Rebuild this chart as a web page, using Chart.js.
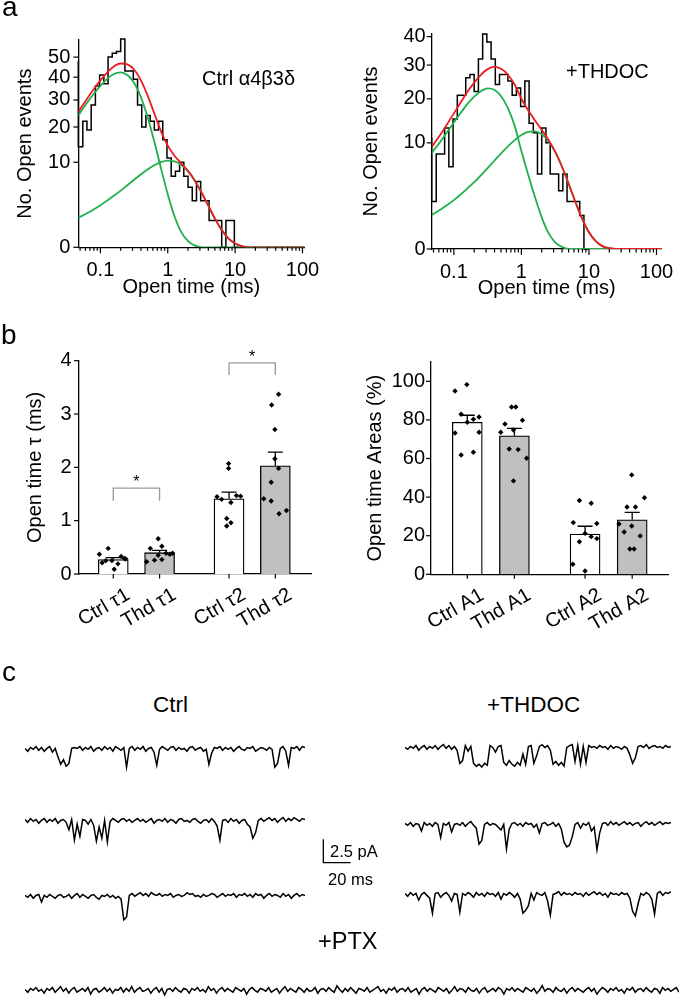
<!DOCTYPE html>
<html>
<head>
<meta charset="utf-8">
<script src="https://cdn.jsdelivr.net/npm/chart.js@4.4.1/dist/chart.umd.min.js"></script>
<style>
  html, body { margin: 0; padding: 0; background: #fff; }
  #fig { position: relative; width: 685px; height: 1002px; overflow: hidden; background: #fff;
         font-family: 'Liberation Sans', Arial, sans-serif; color: #000; }
  #fig canvas { position: absolute; }
  .t { position: absolute; line-height: 1; white-space: nowrap; }
</style>
</head>
<body>
<div id="fig">
  <canvas id="histCtrl" width="330" height="300" style="left:0;top:0"></canvas>
  <canvas id="histThdoc" width="345" height="300" style="left:340px;top:0"></canvas>
  <canvas id="tauChart" width="330" height="340" style="left:0;top:300px"></canvas>
  <canvas id="areaChart" width="345" height="340" style="left:340px;top:300px"></canvas>

  <canvas id="ctrl1" width="280" height="40" style="left:25px;top:740px"></canvas>
  <canvas id="ctrl2" width="280" height="40" style="left:25px;top:812px"></canvas>
  <canvas id="ctrl3" width="280" height="40" style="left:25px;top:887px"></canvas>
  <canvas id="thdoc1" width="266" height="40" style="left:405px;top:739px"></canvas>
  <canvas id="thdoc2" width="266" height="40" style="left:405px;top:816px"></canvas>
  <canvas id="thdoc3" width="266" height="40" style="left:405px;top:886px"></canvas>
  <canvas id="ptx" width="654" height="40" style="left:25px;top:981px"></canvas>
  <canvas id="scaleBar" width="40" height="32" style="left:318px;top:835px"></canvas>

  <div class="t" style="left:2px;top:-7px;font-size:28px">a</div>
  <div class="t" style="left:202px;top:68px;font-size:20px">Ctrl α4β3δ</div>
  <div class="t" style="left:566px;top:61px;font-size:20px">+THDOC</div>
  <div class="t" style="left:1px;top:321px;font-size:28px">b</div>
  <div class="t" style="left:2px;top:658px;font-size:28px">c</div>
  <div class="t" style="left:153px;top:694px;font-size:22.5px">Ctrl</div>
  <div class="t" style="left:487px;top:694px;font-size:22.5px">+THDOC</div>
  <div class="t" style="left:330px;top:843px;font-size:16.5px">2.5 pA</div>
  <div class="t" style="left:328px;top:871px;font-size:16.5px">20 ms</div>
  <div class="t" style="left:318px;top:930px;font-size:23.5px">+PTX</div>
</div>

<script>
Chart.defaults.font.family = "'Liberation Sans', Arial, sans-serif";
Chart.defaults.font.size = 20;
Chart.defaults.color = '#000';
Chart.defaults.animation = false;

// ---------- panel a : open time histograms ----------
const BIN_EDGES = [0.047, 0.0548, 0.0632, 0.073, 0.0843, 0.0974, 0.1125, 0.13, 0.15, 0.173,
  0.2, 0.231, 0.267, 0.308, 0.356, 0.411, 0.474, 0.548, 0.632, 0.73,
  0.843, 0.974, 1.125, 1.3, 1.5, 1.73, 2, 2.31, 2.67, 3.08,
  3.56, 4.11, 4.74, 5.48, 6.32, 7.3, 8.43, 9.74, 11.25];
const CTRL_COUNTS = [48, 14, 22, 19, 28, 36, 41, 37, 50, 52, 53, 60, 43, 43, 39, 28, 20, 24, 22, 19,
  22, 16, 11, 7, 8, 10, 7, 5, 3, 6, 3, 3, 1, 1, 1, 0, 1, 1];
const THDOC_COUNTS = [11, 2, 8, 8, 13, 6, 15, 21, 21, 26, 27, 22, 32, 41, 38, 32, 24, 27, 27, 25,
  21, 23, 18, 25, 14, 12, 5, 13, 10, 5, 5, 3, 5, 2, 2, 2, 1];

const FIT_T = [0.047, 0.0501, 0.0631, 0.0794, 0.1, 0.126, 0.158, 0.2, 0.251, 0.316, 0.398, 0.501,
  0.631, 0.794, 1, 1.26, 1.58, 2, 2.51, 3.16, 3.98, 5.01, 6.31, 7.94, 10, 12.6, 15.8, 20,
  25.1, 31.6, 39.8, 50.1, 63.1, 79.4, 100, 120];
const CTRL_FIT_1 = [24.0, 25.0, 28.8, 32.5, 36.0, 39.2, 41.5, 42.3, 41.0, 37.4, 31.3, 23.5,
  15.5, 8.6, 3.9, 1.33, 0.33, 0.054, 0.005, 0, 0, 0, 0, 0, 0, 0, 0, 0, 0, 0, 0, 0, 0, 0, 0, 0];
const CTRL_FIT_2 = [1.21, 1.29, 1.6, 1.98, 2.45, 3.01, 3.67, 4.44, 5.32, 6.3, 7.34, 8.37,
  9.31, 10.04, 10.39, 10.22, 9.43, 8.03, 6.18, 4.19, 2.42, 1.14, 0.42, 0.11, 0.02, 0.002, 0, 0,
  0, 0, 0, 0, 0, 0, 0, 0];
const CTRL_FIT_SUM = [25.2, 26.3, 30.4, 34.5, 38.5, 42.2, 45.2, 46.7, 46.3, 43.7, 38.6, 31.9,
  24.8, 18.6, 14.3, 11.6, 9.76, 8.08, 6.19, 4.19, 2.42, 1.14, 0.42, 0.11, 0.02, 0.002, 0, 0,
  0, 0, 0, 0, 0, 0, 0, 0];
const THDOC_FIT_1 = [8.1, 8.6, 10.2, 12.1, 14.2, 16.4, 18.6, 20.6, 22.1, 22.9, 22.5, 20.7,
  17.6, 13.5, 8.5, 4.9, 2.45, 0.89, 0.23, 0.04, 0.004, 0, 0, 0, 0, 0, 0, 0,
  0, 0, 0, 0, 0, 0, 0, 0];
const THDOC_FIT_2 = [1.02, 1.1, 1.37, 1.71, 2.12, 2.63, 3.24, 3.96, 4.82, 5.8, 6.91, 8.11,
  9.34, 10.52, 11.52, 12.16, 12.26, 11.68, 10.35, 8.37, 6.04, 3.77, 1.96, 0.81, 0.25, 0.055, 0.0075, 0.0006,
  0, 0, 0, 0, 0, 0, 0, 0];
const THDOC_FIT_SUM = [9.12, 9.7, 11.57, 13.81, 16.32, 19.03, 21.84, 24.56, 26.92, 28.7, 29.41, 28.81,
  26.94, 24.02, 20.02, 17.06, 14.71, 12.57, 10.58, 8.41, 6.04, 3.77, 1.96, 0.81, 0.25, 0.055, 0.0075, 0.0006,
  0, 0, 0, 0, 0, 0, 0, 0];
const CTRL_COUNT_TICKS = [0, 10, 20, 30, 40, 50];
const THDOC_COUNT_TICKS = [0, 10, 20, 30, 40];

// ---------- panel b : time constants and areas ----------
const GROUP_POS = [1, 2, 3.5, 4.5];
const TAU_LABELS = ['Ctrl τ1', 'Thd τ1', 'Ctrl τ2', 'Thd τ2'];
const TAU_MEAN = [0.27, 0.40, 1.41, 2.03];
const TAU_SEM = [0.036, 0.044, 0.125, 0.255];
const TAU_PTS_X = [
  [0.70, 0.89, 0.76, 0.84, 0.97, 1.02, 1.10, 1.17, 1.24, 1.27],
  [1.72, 1.80, 1.89, 1.97, 1.97, 2.05, 2.05, 2.14, 2.22, 2.28],
  [3.24, 3.34, 3.49, 3.49, 3.54, 3.66, 3.75, 3.45, 3.54, 3.45],
  [4.57, 4.42, 4.49, 4.49, 4.57, 4.41, 4.25, 4.41, 4.58, 4.74]];
const TAU_PTS_Y = [
  [0.37, 0.48, 0.21, 0.25, 0.25, 0.09, 0.19, 0.33, 0.29, 0.28],
  [0.23, 0.48, 0.26, 0.66, 0.35, 0.52, 0.27, 0.39, 0.37, 0.39],
  [1.45, 1.40, 2.07, 1.98, 1.34, 1.47, 1.46, 1.04, 0.96, 0.90],
  [3.37, 3.17, 2.71, 2.16, 1.98, 1.72, 1.41, 1.37, 1.13, 1.19]];
const TAU_TICKS = [0, 0.5, 1, 1.5, 2, 2.5, 3, 3.5, 4];
const BRACKET_FROM = [1, 3.5];
const BRACKET_TO = [2, 4.5];
const BRACKET_TOP = [1.61, 3.96];
const BRACKET_LEG = [1.375, 3.73];

const AREA_LABELS = ['Ctrl A1', 'Thd A1', 'Ctrl A2', 'Thd A2'];
const AREA_MEAN = [78.8, 71.8, 20.9, 28.2];
const AREA_SEM = [3.6, 3.8, 4.0, 3.9];
const AREA_PTS_X = [
  [0.74, 0.99, 0.87, 1.00, 1.13, 1.25, 0.74, 1.25, 0.87, 1.13],
  [1.94, 2.03, 1.80, 2.17, 1.71, 1.98, 1.89, 2.08, 2.26, 1.98],
  [3.38, 3.63, 3.25, 3.75, 3.50, 3.63, 3.75, 3.38, 3.24, 3.50],
  [4.49, 4.76, 4.39, 4.57, 4.22, 4.33, 4.49, 4.67, 4.45, 4.54]];
const AREA_PTS_Y = [
  [95.0, 98.3, 82.9, 78.8, 80.3, 81.5, 73.2, 73.6, 61.8, 63.2],
  [86.7, 86.7, 77.9, 79.8, 73.6, 74.8, 64.9, 64.6, 60.1, 48.4],
  [38.2, 36.8, 26.8, 26.3, 21.2, 19.5, 18.5, 16.9, 5.2, 1.7],
  [51.5, 39.7, 34.9, 34.9, 26.1, 21.9, 25.0, 19.9, 13.1, 13.1]];
const AREA_TICKS = [0, 10, 20, 30, 40, 50, 60, 70, 80, 90, 100];

// ---------- panel c : single channel recordings (pA, one sample every 2 ms) ----------
const SAMPLE_MS = 2;
const CTRL_TRACE_1 = [0.1,-0.2,0.2,0.0,0.3,-0.1,0.2,-0.2,0.1,0.3,
  -0.3,0.1,-0.8,-1.6,-1.1,-1.8,-1.5,0.1,0.2,0.1,
  0.3,-0.1,0.2,0.0,0.3,-0.2,0.1,0.2,-0.1,0.3,
  0.0,0.2,-0.2,0.3,0.1,-0.1,0.2,-1.9,0.1,0.3,
  -0.1,0.2,0.0,0.3,-0.2,0.1,0.2,-0.3,-1.7,0.0,
  0.3,0.1,-0.1,0.2,0.3,-0.1,0.2,0.0,0.1,-0.2,
  0.2,0.3,-0.1,0.1,0.2,-0.2,0.0,-1.6,-0.4,0.2,
  0.1,0.3,-0.1,0.2,0.0,0.2,-0.2,0.1,0.3,0.0,
  -0.1,0.2,0.1,0.3,-0.2,0.0,0.2,0.1,-0.1,0.2,
  0.0,-1.9,-1.5,0.1,0.3,-0.2,-1.7,0.2,0.1,0.3,
  -0.1,0.3,0.2];
const CTRL_TRACE_2 = [0.2,-0.1,0.3,0.0,0.2,-0.2,0.1,0.3,-0.1,0.2,
  0.0,0.3,-0.2,0.1,0.2,-0.1,-0.9,0.2,-2.0,-0.3,
  -1.6,0.2,0.1,-0.3,0.2,-0.4,-2.1,-0.6,-1.8,0.1,
  -2.2,0.0,0.3,0.1,-0.1,0.2,0.3,0.0,0.2,-0.1,
  0.1,0.3,0.0,0.2,-0.1,0.1,0.3,-0.2,0.1,0.2,
  0.0,0.3,-0.1,0.2,0.1,-0.2,0.2,0.3,0.0,0.1,
  -0.1,0.2,0.3,0.0,-0.2,0.1,0.2,-0.1,0.3,0.0,
  -0.5,-2.0,0.1,0.2,-0.1,0.3,0.0,0.2,-0.2,0.1,
  0.2,-0.3,-0.6,-1.8,-1.2,0.1,0.3,0.0,0.2,0.4,
  0.1,0.3,-0.1,0.2,0.4,0.0,0.3,0.1,0.4,0.2,
  0.0,0.3,0.2];
const CTRL_TRACE_3 = [0.1,-0.1,0.2,-0.2,0.1,0.2,-0.6,0.1,-0.1,0.2,
  0.0,-0.2,0.1,0.2,-0.1,0.0,0.2,-0.2,0.1,0.3,
  -0.1,0.2,0.0,-0.2,0.1,0.2,-0.1,-0.3,0.1,0.0,
  0.2,-0.1,0.1,-0.2,0.0,-0.3,-2.5,-2.2,0.1,0.3,
  0.0,0.2,0.4,0.1,0.3,0.0,0.4,0.2,0.1,0.3,
  0.0,0.2,0.1,0.3,-0.1,0.1,0.2,0.0,0.1,0.4,
  0.2,0.3,0.0,0.1,-0.1,0.2,0.0,0.1,0.3,0.2,
  -0.1,0.1,0.3,0.0,0.2,0.1,0.3,-0.1,0.2,0.1,
  0.3,0.0,0.2,-0.1,0.3,0.1,0.2,-0.2,0.1,0.3,
  0.0,0.2,0.1,-0.1,0.3,0.0,0.2,-0.2,0.1,0.3,
  0.0,0.2,0.1];
const THDOC_TRACE_1 = [0.1,-0.1,0.2,0.0,0.3,-0.2,0.1,0.3,-0.1,0.2,
  0.0,0.3,-0.1,0.2,0.4,0.0,0.3,-0.1,0.2,-0.2,
  -1.6,-1.3,0.3,-0.3,0.2,-1.6,-1.9,-1.7,-2.0,-1.6,
  -1.8,0.3,0.1,-0.4,0.2,0.3,-1.5,-1.8,-1.3,-1.7,
  -1.9,-1.5,-1.8,-0.6,-1.7,0.2,0.3,-1.6,-0.8,0.2,
  0.4,0.1,0.3,-0.2,-1.7,-1.4,-1.8,-1.5,-1.9,0.1,
  0.3,0.4,-1.4,0.3,-1.7,0.2,-1.5,0.3,0.1,0.2,
  0.0,0.3,0.1,0.2,-0.1,0.3,0.0,0.2,0.1,-0.1,
  0.2,0.0,-0.7,-1.6,-1.0,0.2,0.3,0.1,0.4,0.0,
  0.2,0.3,0.1,0.2,0.0,0.3,0.1,0.2];
const THDOC_TRACE_2 = [0.2,0.0,0.3,-0.1,0.2,0.1,-0.6,0.3,0.0,0.2,
  -0.1,0.3,0.1,-1.3,0.2,0.0,0.3,-0.7,0.1,0.2,
  0.0,0.3,-0.1,0.2,0.4,0.0,-0.3,-2.0,-1.6,0.1,
  0.3,0.0,0.2,0.1,-0.2,-0.5,0.1,-2.5,-0.4,0.2,
  0.3,0.0,0.2,-0.1,0.3,0.1,0.2,-0.2,0.1,-0.8,
  0.2,0.3,0.0,0.1,0.3,-0.1,0.2,-0.4,-1.8,-2.3,
  -2.1,-1.2,0.1,0.3,-0.3,0.2,0.0,0.3,-0.6,-0.2,
  -2.6,-0.8,0.2,0.3,0.0,0.4,0.1,0.3,0.0,0.2,
  0.4,0.1,0.3,0.0,0.2,0.3,-0.1,0.2,0.4,0.1,
  0.3,0.0,0.2,0.4,0.1,0.3,0.2,0.3];
const THDOC_TRACE_3 = [0.2,-0.1,0.3,0.0,0.2,-0.5,0.1,0.3,0.0,-0.3,
  -1.9,0.2,0.3,-0.2,0.1,0.3,0.0,-0.6,0.2,0.1,
  -1.8,0.2,0.0,0.3,0.1,-0.2,0.3,0.0,0.2,-0.1,
  0.3,0.1,0.2,-0.1,0.3,-0.4,0.2,0.0,0.3,0.1,
  -0.2,0.2,-0.4,-1.9,-1.6,-1.1,0.2,-0.5,0.3,0.1,
  0.0,0.3,-0.6,-2.1,0.1,0.2,0.4,0.0,0.3,0.1,
  0.2,0.0,0.3,0.1,0.2,-0.1,0.3,0.0,0.2,0.4,
  0.1,0.3,0.0,0.2,-0.2,0.3,0.1,0.2,0.0,0.3,
  0.1,0.2,-0.3,-1.7,-2.2,-0.9,0.2,0.0,0.3,0.1,
  -0.4,-2.0,0.2,0.4,0.0,0.3,0.2,0.4];
const PTX_TRACE = [0.1,-0.2,0.2,0.0,0.3,-0.1,0.1,-0.3,0.2,0.0,0.3,-0.2,0.1,0.4,-0.1,0.2,-0.3,0.1,0.3,-0.2,
  0.0,0.2,-0.1,0.3,-0.4,0.1,0.2,-0.2,0.0,0.3,-0.1,0.2,-0.3,0.1,0.0,0.3,-0.2,0.2,-0.1,0.4,
  -0.2,0.1,0.3,-0.1,0.0,0.2,-0.3,0.1,0.3,-0.2,0.2,-0.5,0.1,0.2,-0.1,0.3,0.0,-0.2,0.2,0.1,
  -0.3,0.2,0.0,0.3,-0.1,0.1,-0.2,0.4,0.0,0.2,-0.3,0.1,0.3,-0.1,0.2,0.0,-0.2,0.3,0.1,-0.1,
  0.2,-0.4,0.1,0.3,0.0,-0.2,0.2,0.1,-0.1,0.3,-0.2,0.0,0.2,-0.3,0.1,0.4,-0.1,0.2,0.0,-0.2,
  0.3,0.1,-0.2,0.2,-0.1,0.0,0.3,-0.3,0.1,0.2,-0.1,0.3,0.0,-0.2,0.5,0.1,-0.2,0.2,-0.1,0.3,
  0.0,-0.3,0.2,0.1,-0.1,0.3,-0.2,0.0,0.2,0.4,-0.1,0.1,-0.3,0.2,0.0,0.3,-0.2,0.1,0.2,-0.1,
  0.3,-0.2,0.0,0.2,-0.4,0.1,0.3,-0.1,0.2,0.0,-0.2,0.3,0.1,-0.1,0.2,-0.3,0.0,0.4,-0.1,0.2,
  0.1,-0.2,0.3,0.0,-0.1,0.2,-0.3,0.1,0.3,-0.2,0.0,0.2,-0.1,0.3,0.1,-0.4,0.2,0.0,0.3,-0.1,
  0.2,0.0,-0.2,0.3,0.1,-0.1,0.2,-0.3,0.0,0.5,-0.1,0.2,0.1,-0.2,0.3,0.0,-0.1,0.2,-0.3,0.1,
  0.3,-0.1,0.2,0.0,-0.2,0.1,0.3,-0.1,0.2,-0.4,0.0,0.3,0.1,-0.2,0.2,0.0,0.3,-0.1,0.1,-0.3,
  0.2,0.0,0.3,-0.2,0.1,0.2,-0.1,0.3,0.0,-0.2,0.2,0.1,-0.3,0.3,0.0,0.2,-0.1,0.1,0.3,-0.2];
const SCALE_BAR_PA = 2.5;
const SCALE_BAR_MS = 20;

// ---------- helpers ----------
const RED = '#ec1c24';
const GREEN = '#1fb04b';
const AXIS_BORDER = {color: '#000', width: 1.3};
const NO_GRID = {display: false, drawTicks: false};
const QUIET = {legend: {display: false}, tooltip: {enabled: false}};

// tick marks drawn outward; labelled ticks get the long mark
function tickMarks(len) {
  return {
    id: 'tickMarks',
    afterDraw(chart) {
      const ctx = chart.ctx;
      ctx.save();
      ctx.strokeStyle = '#000';
      ctx.lineWidth = 1.2;
      Object.values(chart.scales).forEach(s => {
        const l = len[s.axis];
        if (!l) return;
        s.ticks.forEach(t => {
          const size = t.label ? l[0] : l[1];
          const p = s.getPixelForValue(t.value);
          ctx.beginPath();
          if (s.isHorizontal()) { ctx.moveTo(p, s.top); ctx.lineTo(p, s.top + size); }
          else { ctx.moveTo(s.right, p); ctx.lineTo(s.right - size, p); }
          ctx.stroke();
        });
      });
      ctx.restore();
    }
  };
}

function logTicks(min, max) {
  const out = [];
  for (let e = -2; e <= 2; e++) {
    for (let m = 1; m <= 9; m++) {
      const v = +(m * Math.pow(10, e)).toPrecision(2);
      if (v >= min && v <= max) out.push({value: v, major: m === 1});
    }
  }
  return out;
}

const curve = (ts, vals) => ts.map((t, i) => ({x: t, y: Math.sqrt(vals[i])}));
function histPoints(edges, counts) {
  const pts = counts.map((c, i) => ({x: edges[i], y: Math.sqrt(c)}));
  pts.push({x: edges[counts.length], y: 0});
  return pts;
}

function histChart(id, o) {
  const fitStyle = {borderWidth: 1.8, pointRadius: 0, cubicInterpolationMode: 'monotone'};
  return new Chart(document.getElementById(id), {
    type: 'line',
    data: {datasets: [
      Object.assign({data: curve(FIT_T, o.sum), borderColor: RED, order: 0}, fitStyle),
      Object.assign({data: curve(FIT_T, o.fit1), borderColor: GREEN, order: 1}, fitStyle),
      Object.assign({data: curve(FIT_T, o.fit2), borderColor: GREEN, order: 1}, fitStyle),
      {data: histPoints(BIN_EDGES, o.counts), borderColor: '#000', borderWidth: 1.5,
       pointRadius: 0, stepped: 'after', clip: false, order: 2}
    ]},
    options: {
      responsive: false, events: [],
      layout: {padding: o.padding},
      plugins: QUIET,
      scales: {
        x: {
          type: 'logarithmic', min: 0.047, max: o.xMax,
          afterBuildTicks: s => { s.ticks = logTicks(0.047, o.xMax); },
          afterFit: s => { s.height = o.xHeight; },
          grid: NO_GRID, border: AXIS_BORDER,
          ticks: {autoSkip: false, maxRotation: 0, minRotation: 0, padding: o.xPad,
                  callback: (v, i, ticks) => (ticks[i].major ? String(v) : '')},
          title: {display: true, text: 'Open time (ms)', padding: 0}
        },
        y: {
          min: 0, max: Math.sqrt(o.yTop),
          afterBuildTicks: s => { s.ticks = o.yTicks.map(v => ({value: Math.sqrt(v)})); },
          afterFit: s => { s.width = o.yWidth; },
          grid: NO_GRID, border: AXIS_BORDER,
          ticks: {padding: o.yPad, callback: v => String(Math.round(v * v))},
          title: {display: true, text: 'No. Open events', padding: {top: o.yTitlePad, bottom: 0}}
        }
      }
    },
    plugins: [tickMarks({x: [6, 3.5], y: [5, 3]})]
  });
}

function errorBars(pos, mean, sem) {
  return {
    id: 'errorBars',
    afterDatasetsDraw(chart) {
      const {ctx, scales: {x, y}} = chart;
      ctx.save();
      ctx.strokeStyle = '#000';
      ctx.lineWidth = 1.3;
      pos.forEach((v, i) => {
        const px = x.getPixelForValue(v);
        const y0 = y.getPixelForValue(mean[i]);
        const y1 = y.getPixelForValue(mean[i] + sem[i]);
        ctx.beginPath();
        ctx.moveTo(px, y0); ctx.lineTo(px, y1);
        ctx.moveTo(px - 7.5, y1); ctx.lineTo(px + 7.5, y1);
        ctx.stroke();
      });
      ctx.restore();
    }
  };
}

function brackets(from, to, top, leg) {
  return {
    id: 'brackets',
    afterDraw(chart) {
      const {ctx, scales: {x, y}} = chart;
      ctx.save();
      ctx.strokeStyle = '#9a9a9a';
      ctx.lineWidth = 1.3;
      from.forEach((f, i) => {
        const x1 = x.getPixelForValue(f), x2 = x.getPixelForValue(to[i]);
        const yt = y.getPixelForValue(top[i]), yl = y.getPixelForValue(leg[i]);
        ctx.beginPath();
        ctx.moveTo(x1, yl); ctx.lineTo(x1, yt); ctx.lineTo(x2, yt); ctx.lineTo(x2, yl);
        ctx.stroke();
        ctx.fillStyle = '#000';
        ctx.font = "16px 'Liberation Sans', Arial, sans-serif";
        ctx.textAlign = 'center';
        ctx.textBaseline = 'alphabetic';
        ctx.fillText('*', (x1 + x2) / 2, yt - 1.2);
      });
      ctx.restore();
    }
  };
}

function barChart(id, o) {
  const pts = [];
  o.ptsX.forEach((xs, g) => xs.forEach((xv, j) => pts.push({x: xv, y: o.ptsY[g][j]})));
  return new Chart(document.getElementById(id), {
    type: 'bar',
    data: {datasets: [
      {type: 'line', data: pts, showLine: false, pointStyle: 'rectRot', pointRadius: 2.7,
       pointBackgroundColor: '#000', pointBorderWidth: 0, order: 0},
      {data: GROUP_POS.map((xv, i) => ({x: xv, y: o.mean[i]})),
       backgroundColor: ['#ffffff', '#c0c0c0', '#ffffff', '#c0c0c0'],
       borderColor: '#000', borderWidth: 1.3, barThickness: 30, order: 1}
    ]},
    options: {
      responsive: false, events: [],
      layout: {padding: o.padding},
      plugins: QUIET,
      scales: {
        x: {
          type: 'linear', offset: false, min: o.xMin, max: o.xMax,
          afterBuildTicks: s => { s.ticks = GROUP_POS.map(v => ({value: v})); },
          afterFit: s => { s.height = o.xHeight; },
          grid: NO_GRID, border: AXIS_BORDER,
          ticks: {autoSkip: false, minRotation: 30, maxRotation: 30, labelOffset: 15, padding: 9,
                  callback: (v, i) => o.labels[i]}
        },
        y: {
          min: 0, max: o.yMax,
          afterBuildTicks: s => { s.ticks = o.yTicks.map(v => ({value: v})); },
          afterFit: s => { s.width = o.yWidth; },
          grid: NO_GRID, border: AXIS_BORDER,
          ticks: {padding: o.yPad, callback: v => (v % o.labelEvery === 0 ? String(v) : '')},
          title: {display: true, text: o.title, padding: {top: 23, bottom: 0}}
        }
      }
    },
    plugins: [tickMarks({x: [4.5, 4.5], y: [5, 3]}), errorBars(GROUP_POS, o.mean, o.sem)]
      .concat(o.extra || [])
  });
}

function traceChart(id, values) {
  return new Chart(document.getElementById(id), {
    type: 'line',
    data: {datasets: [{data: values.map((v, i) => ({x: i * SAMPLE_MS, y: v})),
      borderColor: '#000', borderWidth: 1.5, pointRadius: 0}]},
    options: {
      responsive: false, events: [], layout: {padding: 0}, plugins: QUIET,
      scales: {
        x: {type: 'linear', display: false, min: 0, max: (values.length - 1) * SAMPLE_MS},
        y: {display: false, min: -3.27, max: 1.0}
      }
    }
  });
}

// ---------- build ----------
histChart('histCtrl', {
  counts: CTRL_COUNTS, fit1: CTRL_FIT_1, fit2: CTRL_FIT_2, sum: CTRL_FIT_SUM,
  padding: {left: 0, top: 40, right: 15, bottom: 1},
  xMax: 107, xHeight: 51.7, xPad: 10.7,
  yTop: 59.4, yTicks: CTRL_COUNT_TICKS, yWidth: 78.3, yPad: 8, yTitlePad: 13
});
histChart('histThdoc', {
  counts: THDOC_COUNTS, fit1: THDOC_FIT_1, fit2: THDOC_FIT_2, sum: THDOC_FIT_SUM,
  padding: {left: 0, top: 34, right: 15, bottom: 0},
  xMax: 119, xHeight: 51, xPad: 11.5,
  yTop: 41, yTicks: THDOC_COUNT_TICKS, yWidth: 91.7, yPad: 6, yTitlePad: 19.7
});

barChart('tauChart', {
  labels: TAU_LABELS, mean: TAU_MEAN, sem: TAU_SEM, ptsX: TAU_PTS_X, ptsY: TAU_PTS_Y,
  padding: {left: 0, top: 60.7, right: 18.3, bottom: 0},
  xMin: 0.26, xMax: 5.285, xHeight: 66,
  yMax: 4, yTicks: TAU_TICKS, labelEvery: 1, yWidth: 79, yPad: 7.5,
  title: 'Open time τ (ms)',
  extra: [brackets(BRACKET_FROM, BRACKET_TO, BRACKET_TOP, BRACKET_LEG)]
});
barChart('areaChart', {
  labels: AREA_LABELS, mean: AREA_MEAN, sem: AREA_SEM, ptsX: AREA_PTS_X, ptsY: AREA_PTS_Y,
  padding: {left: 0, top: 62, right: 17, bottom: 0},
  xMin: 0.23, xMax: 5.26, xHeight: 65.7,
  yMax: 110, yTicks: AREA_TICKS, labelEvery: 20, yWidth: 91, yPad: 6,
  title: 'Open time Areas (%)'
});

traceChart('ctrl1', CTRL_TRACE_1);
traceChart('ctrl2', CTRL_TRACE_2);
traceChart('ctrl3', CTRL_TRACE_3);
traceChart('thdoc1', THDOC_TRACE_1);
traceChart('thdoc2', THDOC_TRACE_2);
traceChart('thdoc3', THDOC_TRACE_3);
traceChart('ptx', PTX_TRACE);

// scale bar uses the same pA-per-pixel and ms-per-pixel as the traces
new Chart(document.getElementById('scaleBar'), {
  type: 'line',
  data: {datasets: [{data: [{x: 0, y: SCALE_BAR_PA}, {x: 0, y: 0}, {x: SCALE_BAR_MS, y: 0}],
    borderColor: '#000', borderWidth: 1.3, pointRadius: 0}]},
  options: {
    responsive: false, events: [], layout: {padding: 0}, plugins: QUIET,
    scales: {
      x: {type: 'linear', display: false, min: -3.9, max: 25.4},
      y: {display: false, min: -0.46, max: 2.96}
    }
  }
});
</script>
</body>
</html>
